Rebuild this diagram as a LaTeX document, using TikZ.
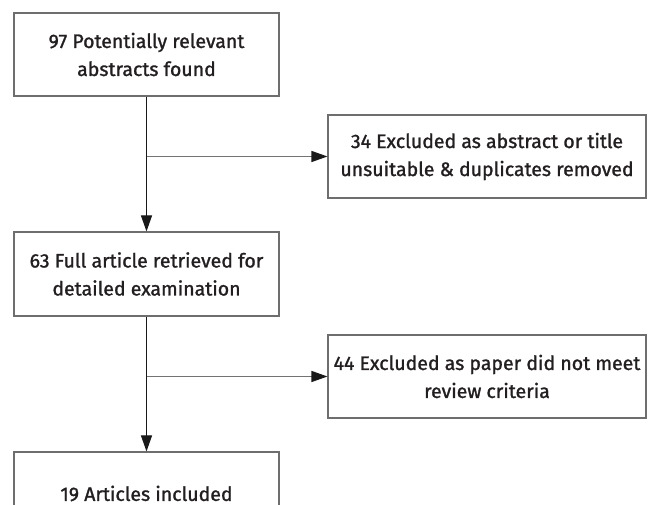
\documentclass[tikz,border=0pt]{standalone}
\usepackage{fontspec}
\setmainfont[FakeBold=1.3]{Fira Sans}
\usetikzlibrary{arrows.meta,calc}
\definecolor{txt}{HTML}{231F20}
\definecolor{boxline}{HTML}{6E6E6E}
\begin{document}
\begin{tikzpicture}[x=1pt,y=1pt,
  flowbox/.style={draw=boxline, line width=1.1pt, align=center, inner sep=0pt,
    minimum height=83pt, text=txt, font=\fontsize{19.5}{28}\selectfont},
  leftbox/.style={flowbox, minimum width=265pt},
  rightbox/.style={flowbox, minimum width=318pt},
  vline/.style={draw=black!90, line width=1.1pt, -{Triangle[length=16pt,width=11pt]}},
  hline/.style={draw=black!55, line width=1.3pt, -{Triangle[length=16pt,width=11pt,color=black!90]}}]
\useasboundingbox (0,0) rectangle (648,505);
\clip (0,0) rectangle (648,505);
\node[leftbox] (b1) at (146.5,450.5) {97 Potentially relevant\\abstracts found};
\node[rightbox] (b2) at (487,348.5) {34 Excluded as abstract or title\\unsuitable \& duplicates removed};
\node[leftbox, minimum height=84pt] (b3) at (146.5,231) {63 Full article retrieved for\\detailed examination};
\node[rightbox] (b4) at (487,128.5) {44 Excluded as paper did not meet\\review criteria};
\node[leftbox] (b5) at (146.5,11.5) {19 Articles included};
\coordinate (j1) at (b1.south |- b2.west);
\coordinate (j2) at (b3.south |- b4.west);
\draw[vline] (b1.south) -- (b3.north);
\draw[hline] (j1) -- (b2.west);
\draw[vline] (b3.south) -- (b5.north);
\draw[hline] (j2) -- (b4.west);
\end{tikzpicture}
\end{document}
